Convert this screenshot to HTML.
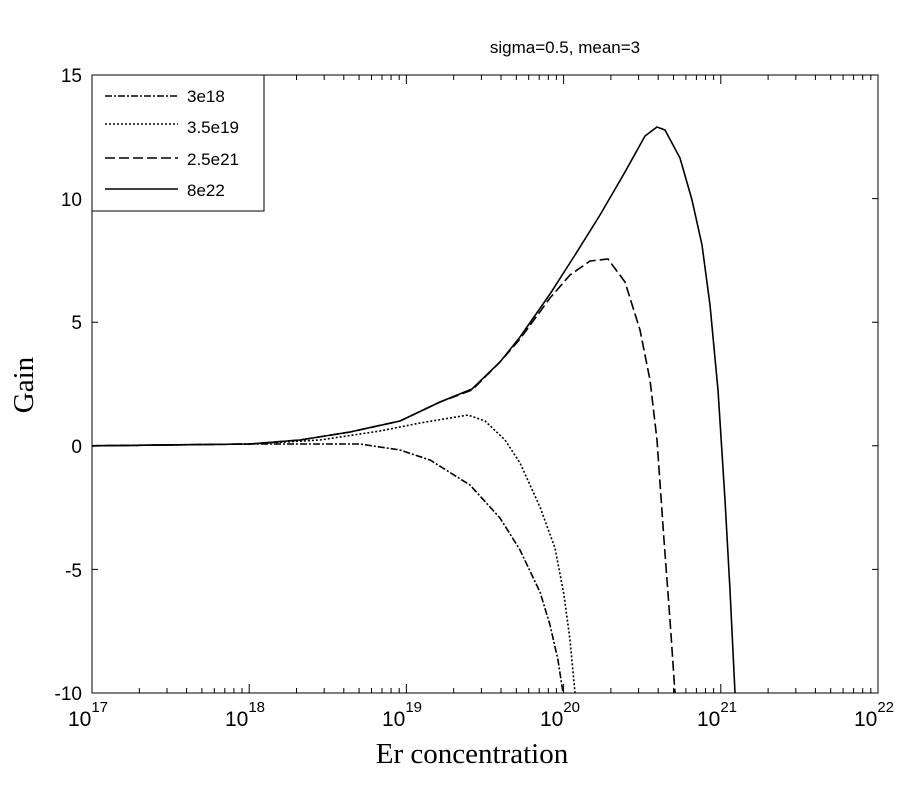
<!DOCTYPE html>
<html><head><style>body{margin:0;background:#fff}svg{display:block}</style></head><body>
<svg width="900" height="800" viewBox="0 0 900 800" xmlns="http://www.w3.org/2000/svg" font-family="Liberation Sans, sans-serif">
<rect width="900" height="800" fill="#fff"/>
<g stroke="#000" stroke-width="1" fill="none">
<rect x="92" y="75" width="786" height="618"/>
<!-- y ticks -->
<path d="M92 75h6M878 75h-6M92 198.6h6M878 198.6h-6M92 322.2h6M878 322.2h-6M92 445.8h6M878 445.8h-6M92 569.4h6M878 569.4h-6M92 693h6M878 693h-6"/>
<!-- x ticks -->
<path id="dec" d="M92 693v-9M139.3 693v-5M167 693v-5M186.6 693v-5M201.9 693v-5M214.3 693v-5M224.8 693v-5M233.9 693v-5M242 693v-5M92 75v9M139.3 75v5M167 75v5M186.6 75v5M201.9 75v5M214.3 75v5M224.8 75v5M233.9 75v5M242 75v5"/>
<use href="#dec" x="157.2"/><use href="#dec" x="314.4"/><use href="#dec" x="471.6"/><use href="#dec" x="628.8"/>
<path d="M878 693v-9M878 75v9"/>
</g>
<g font-size="19" text-anchor="end">
<text x="82" y="82">15</text><text x="82" y="206">10</text><text x="82" y="329">5</text><text x="82" y="453">0</text><text x="82" y="577">-5</text><text x="82" y="700">-10</text>
</g>
<g font-size="21" text-anchor="middle">
<text x="88" y="726">10<tspan font-size="15" dy="-14">17</tspan></text>
<text x="245" y="726">10<tspan font-size="15" dy="-14">18</tspan></text>
<text x="402" y="726">10<tspan font-size="15" dy="-14">19</tspan></text>
<text x="560" y="726">10<tspan font-size="15" dy="-14">20</tspan></text>
<text x="717" y="726">10<tspan font-size="15" dy="-14">21</tspan></text>
<text x="874" y="726">10<tspan font-size="15" dy="-14">22</tspan></text>
</g>
<text x="472" y="763" font-family="Liberation Serif, serif" font-size="29" text-anchor="middle">Er concentration</text>
<text transform="translate(33 385) rotate(-90)" font-family="Liberation Serif, serif" font-size="29" text-anchor="middle">Gain</text>
<text x="565" y="53" font-size="17" text-anchor="middle">sigma=0.5, mean=3</text>
<g fill="none" stroke="#000" stroke-width="1.6">
<path d="M92 445.8 L250 444 L300 440 L350 432 L400 421 L440 402 L472 389 L500 362 L520 337 L550 294 L575 255 L600 215 L625 172 L645 136 L657 127 L665 130 L680 158 L692 200 L702 245 L710 305 L718 390 L725 500 L730 590 L735 693"/>
<path stroke-dasharray="10,4" d="M92 445.8 L250 444 L300 440 L350 432 L400 421 L440 402 L472 390 L500 362 L520 339 L550 298 L570 275 L590 261 L608 259 L625 282 L640 330 L650 380 L657 440 L664 540 L670 620 L675 693"/>
<path stroke-dasharray="2,2" d="M92 445.8 L250 444 L320 440 L380 431 L420 423 L450 418 L468 415 L485 421 L505 440 L520 463 L540 507 L555 548 L564 595 L570 640 L575 693"/>
<path stroke-dasharray="7,2,2,2" d="M92 445.8 L250 444 L360 444 L400 450 L430 460 L470 485 L500 518 L520 550 L540 592 L550 625 L558 660 L563 693"/>
</g>
<rect x="92" y="75" width="172" height="136" fill="#fff" stroke="#000"/>
<g stroke="#000" stroke-width="1.6">
<line x1="105" y1="96" x2="178" y2="96" stroke-dasharray="7,2,2,2"/>
<line x1="105" y1="124" x2="178" y2="124" stroke-dasharray="2,2"/>
<line x1="105" y1="158" x2="178" y2="158" stroke-dasharray="10,4"/>
<line x1="105" y1="189" x2="178" y2="189"/>
</g>
<g font-size="17">
<text x="187" y="102">3e18</text><text x="187" y="133">3.5e19</text><text x="187" y="165">2.5e21</text><text x="187" y="196">8e22</text>
</g>
</svg>
</body></html>
